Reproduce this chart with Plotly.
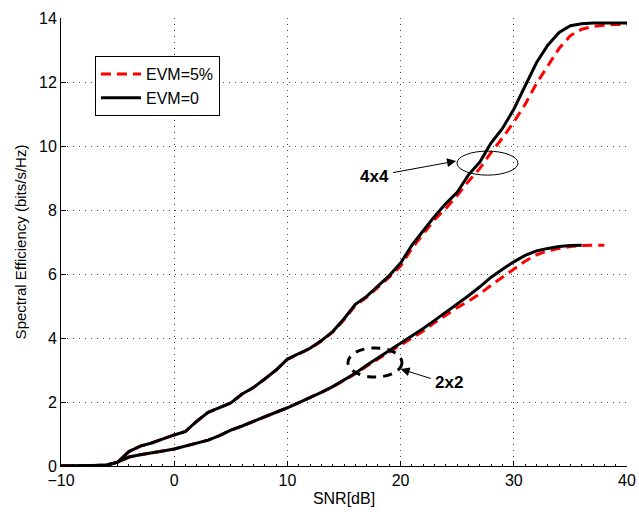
import plotly.graph_objects as go

# SNR grid (dB)
snr_4x4 = [-10, -8, -6, -5, -4, -3, -2, -1, 0, 1, 2, 3, 4, 5, 6, 7, 8, 9, 10,
           11, 12, 13, 14, 15, 16, 17, 18, 19, 20, 21, 22, 23, 24, 25, 26, 27,
           28, 29, 30, 31, 32, 33, 34, 35, 36, 37, 38, 39, 40]

se_4x4_ideal = [0, 0, 0.03, 0.12, 0.45, 0.62, 0.72, 0.85, 0.97, 1.08, 1.4, 1.68,
                1.82, 1.97, 2.25, 2.45, 2.72, 3.0, 3.34, 3.5, 3.68, 3.92, 4.2,
                4.6, 5.05, 5.3, 5.62, 5.95, 6.34, 6.9, 7.35, 7.8, 8.2, 8.55,
                9.1, 9.5, 10.1, 10.55, 11.15, 11.9, 12.6, 13.15, 13.55, 13.76,
                13.82, 13.84, 13.84, 13.84, 13.84]

se_4x4_evm5 = [0, 0, 0.03, 0.12, 0.45, 0.62, 0.72, 0.85, 0.97, 1.08, 1.4, 1.68,
               1.82, 1.97, 2.25, 2.45, 2.72, 3.0, 3.33, 3.49, 3.67, 3.9, 4.18,
               4.57, 5.02, 5.27, 5.58, 5.9, 6.25, 6.8, 7.25, 7.7, 8.05, 8.45,
               8.9, 9.3, 9.8, 10.25, 10.75, 11.3, 11.95, 12.5, 13.05, 13.45,
               13.65, 13.74, 13.78, 13.8, 13.8]

snr_2x2_ideal = [-10, -8, -6, -5, -4, -3, -2, -1, 0, 1, 2, 3, 4, 5, 6, 7, 8, 9,
                 10, 11, 12, 13, 14, 15, 16, 17, 18, 19, 20, 21, 22, 23, 24, 25,
                 26, 27, 28, 29, 30, 31, 32, 33, 34, 35, 36]

se_2x2_ideal = [0, 0, 0.02, 0.12, 0.28, 0.35, 0.4, 0.47, 0.53, 0.62, 0.72, 0.81,
                0.95, 1.12, 1.25, 1.4, 1.55, 1.68, 1.82, 1.98, 2.12, 2.3, 2.48,
                2.7, 2.9, 3.15, 3.38, 3.6, 3.84, 4.05, 4.3, 4.55, 4.8, 5.05,
                5.32, 5.6, 5.9, 6.15, 6.38, 6.58, 6.72, 6.8, 6.86, 6.89, 6.9]

snr_2x2_evm5 = [-10, -8, -6, -5, -4, -3, -2, -1, 0, 1, 2, 3, 4, 5, 6, 7, 8, 9,
                10, 11, 12, 13, 14, 15, 16, 17, 18, 19, 20, 21, 22, 23, 24, 25,
                26, 27, 28, 29, 30, 31, 32, 33, 34, 35, 36, 37, 38]

se_2x2_evm5 = [0, 0, 0.02, 0.12, 0.28, 0.35, 0.4, 0.47, 0.53, 0.62, 0.72, 0.81,
               0.95, 1.12, 1.25, 1.4, 1.55, 1.68, 1.82, 1.98, 2.12, 2.3, 2.47,
               2.68, 2.88, 3.12, 3.34, 3.55, 3.78, 4.0, 4.22, 4.48, 4.72, 4.95,
               5.15, 5.38, 5.65, 5.9, 6.15, 6.4, 6.6, 6.72, 6.8, 6.86, 6.89,
               6.9, 6.9]

x_ticks = [-10, 0, 10, 20, 30, 40]
y_ticks = [0, 2, 4, 6, 8, 10, 12, 14]

FONT = "Liberation Sans, Arial, sans-serif"
red_style = dict(color="#ff0000", width=3, dash="10px,6px")
black_style = dict(color="#000000", width=3)

fig = go.Figure()

# EVM = 5 % curves (drawn first, underneath)
fig.add_trace(go.Scatter(x=snr_4x4, y=se_4x4_evm5, mode="lines", line=red_style,
                         name="EVM=5%", legendgroup="evm5"))
fig.add_trace(go.Scatter(x=snr_2x2_evm5, y=se_2x2_evm5, mode="lines", line=red_style,
                         name="EVM=5%", legendgroup="evm5", showlegend=False))
# Ideal curves
fig.add_trace(go.Scatter(x=snr_4x4, y=se_4x4_ideal, mode="lines", line=black_style,
                         name="EVM=0", legendgroup="evm0"))
fig.add_trace(go.Scatter(x=snr_2x2_ideal, y=se_2x2_ideal, mode="lines", line=black_style,
                         name="EVM=0", legendgroup="evm0", showlegend=False))

# Ellipses grouping the curve pairs
fig.add_shape(type="circle", xref="x", yref="y", x0=24.98, x1=30.37, y0=9.09, y1=9.84,
              line=dict(color="black", width=1))
fig.add_shape(type="circle", xref="x", yref="y", x0=15.35, x1=20.12, y0=2.78, y1=3.69,
              line=dict(color="black", width=3, dash="9px,7px"))

# Labels with arrows
fig.add_annotation(x=17.65, y=9.06, text="<b>4x4</b>", showarrow=False,
                   font=dict(family=FONT, size=17, color="black"))
fig.add_annotation(x=24.9, y=9.53, ax=19.2, ay=9.16, axref="x", ayref="y",
                   text="", showarrow=True, arrowhead=2, arrowsize=1.8,
                   arrowwidth=1, arrowcolor="black")
fig.add_annotation(x=24.3, y=2.6, text="<b>2x2</b>", showarrow=False,
                   font=dict(family=FONT, size=17, color="black"))
fig.add_annotation(x=20.0, y=3.03, ax=22.8, ay=2.72, axref="x", ayref="y",
                   text="", showarrow=True, arrowhead=2, arrowsize=1.8,
                   arrowwidth=1, arrowcolor="black")

axis_common = dict(
    showgrid=True, gridcolor="#444444", gridwidth=1, griddash="1px,5px",
    zeroline=False, showline=True, linecolor="black", linewidth=1,
    ticks="inside", ticklen=5, tickcolor="black",
    tickfont=dict(family=FONT, size=16, color="black"),
    mirror=False, automargin=False,
)

fig.update_xaxes(range=[-10, 40], tickvals=x_ticks,
                 title=dict(text="SNR[dB]", font=dict(family=FONT, size=16, color="black"),
                            standoff=4),
                 minor=dict(ticks="inside", ticklen=2, dtick=1, tickcolor="black",
                            showgrid=False),
                 **axis_common)
fig.update_yaxes(range=[0, 14], tickvals=y_ticks,
                 title=dict(text="Spectral Efficiency (bits/s/Hz)",
                            font=dict(family=FONT, size=15, color="black"), standoff=8),
                 **axis_common)

fig.update_layout(
    width=639, height=512,
    margin=dict(l=61, r=12, t=18, b=46),
    paper_bgcolor="white", plot_bgcolor="white",
    font=dict(family=FONT, size=16, color="black"),
    legend=dict(x=0.06, y=0.915, xanchor="left", yanchor="top",
                bgcolor="white", bordercolor="black", borderwidth=1,
                font=dict(family=FONT, size=16, color="black"),
                itemwidth=40, tracegroupgap=0),
    showlegend=True,
)

fig.write_html("out.html")
